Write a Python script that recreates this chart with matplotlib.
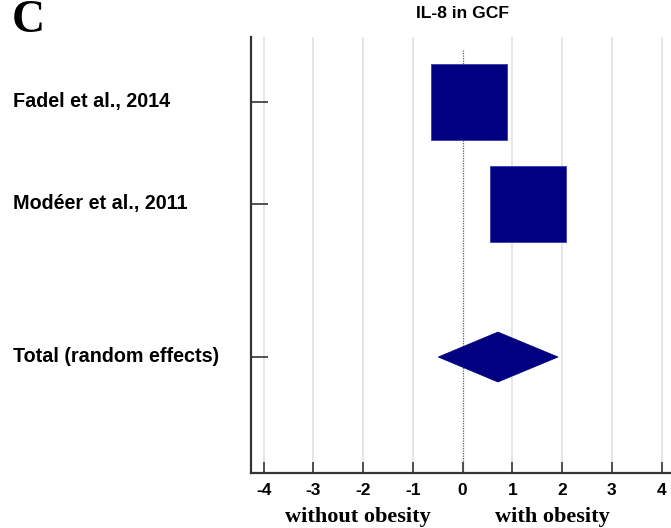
import matplotlib
matplotlib.use("Agg")
import matplotlib.pyplot as plt
from matplotlib.patches import Rectangle, Polygon

# study data (mean difference, IL-8 in GCF)
studies = ["Fadel et al., 2014", "Mod\u00e9er et al., 2011"]
estimates = [0.12, 1.32]
rows = [0, 1]
total_label = "Total (random effects)"
total_est = 0.71
total_lo = -0.49
total_hi = 1.92
total_row = 2.5
xticks = [-4, -3, -2, -1, 0, 1, 2, 3, 4]

navy = "#000080"
box_hw = 0.765   # half-width of study squares (x units)
box_hh = 0.372   # half-height (y units)
dia_hh = 0.245

fig = plt.figure(figsize=(6.71, 5.28), dpi=100)
ax = fig.add_axes([250.7/671, 55/528, (671-250.7)/671, 436/528])
ax.set_xlim(-4.26, 4.19)
ax.set_ylim(3.637, -0.637)

# grid lines
for x in xticks:
    if x == 0:
        ax.plot([0, 0], [-0.51, 3.637], color="#5555cc", lw=0.9, ls=(0, (1, 1)), zorder=1)
    else:
        ax.axvline(x, color="#e2e2e2", lw=1.2, zorder=0)

for r, e in zip(rows, estimates):
    ax.add_patch(Rectangle((e - box_hw, r - box_hh), 2*box_hw, 2*box_hh,
                           facecolor=navy, edgecolor="#3a3ab0", lw=0.6, zorder=3))

ax.add_patch(Polygon([[total_lo, total_row], [total_est, total_row - dia_hh],
                      [total_hi, total_row], [total_est, total_row + dia_hh]],
                     closed=True, facecolor=navy, edgecolor=navy, lw=0.5, zorder=3))

ax.spines["top"].set_visible(False)
ax.spines["right"].set_visible(False)
for s in ["left", "bottom"]:
    ax.spines[s].set_linewidth(1.6)
    ax.spines[s].set_color("#333333")

ax.set_xticks(xticks)
ax.set_xticklabels([str(t) for t in xticks], fontsize=12.5, fontweight="bold",
                   family="Liberation Sans")
ax.tick_params(axis="x", direction="in", length=8, width=1.3, color="#444444", pad=7)
ax.set_yticks(rows + [total_row])
ax.set_yticklabels([])
ax.tick_params(axis="y", direction="in", length=12, width=1.3, color="#444444")

# study labels
for r, s in zip(rows + [total_row], studies + [total_label]):
    fig.text(13/671, 1 - (102 + r*102)/528, s, ha="left", va="center",
             fontsize=14.2, fontweight="bold", family="Liberation Sans")

fig.text(462/671, 1 - 14/528, "IL-8 in GCF", ha="center", va="center",
         fontsize=12.6, fontweight="bold", family="Liberation Sans")
fig.text(358/671, 1 - 517/528, "without obesity", ha="center", va="center",
         fontsize=16, fontweight="bold", family="Liberation Serif")
fig.text(552/671, 1 - 517/528, "with obesity", ha="center", va="center",
         fontsize=16, fontweight="bold", family="Liberation Serif")
fig.text(12/671, 1 - 31.5/528, "C", ha="left", va="baseline",
         fontsize=33, fontweight="bold", family="Liberation Serif")

fig.savefig("out.png", dpi=100)
